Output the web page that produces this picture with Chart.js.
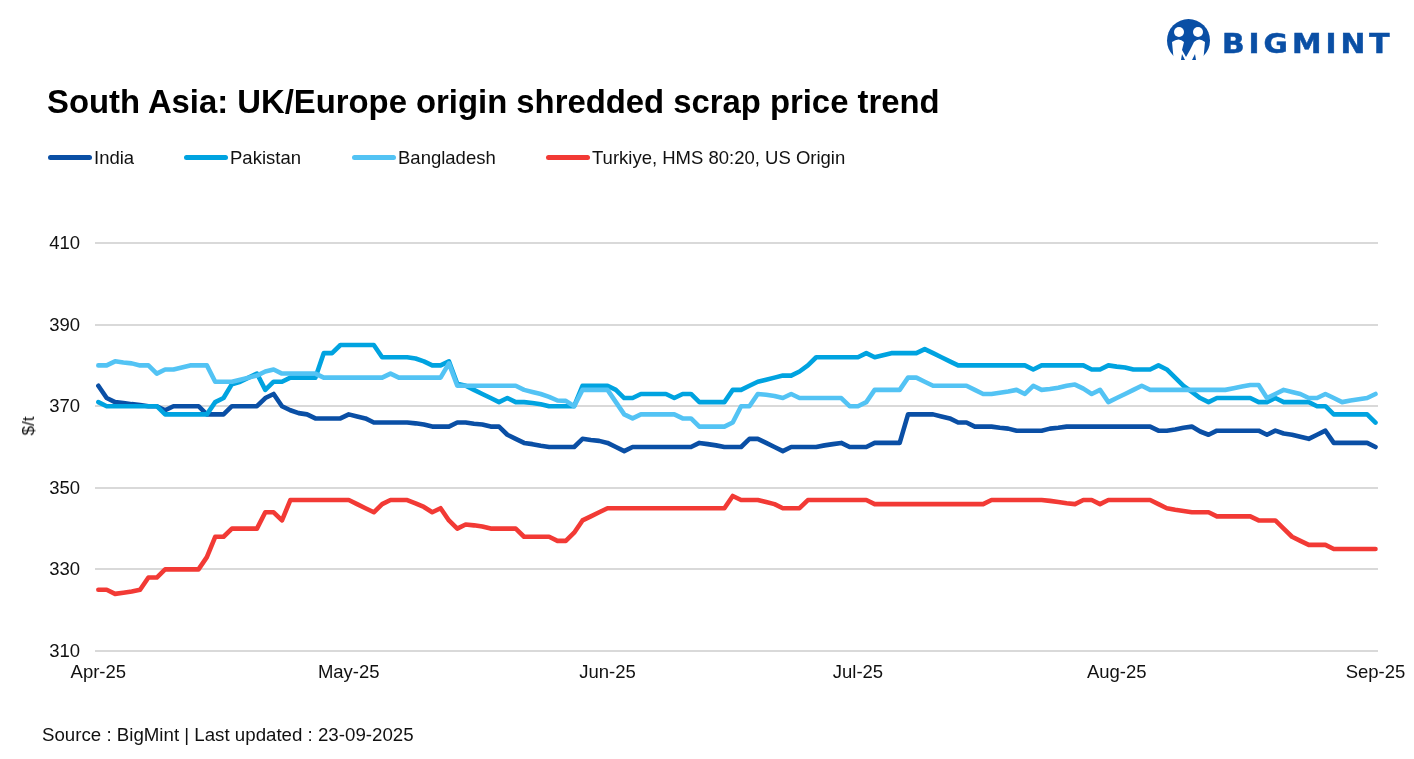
<!DOCTYPE html>
<html>
<head>
<meta charset="utf-8">
<title>South Asia shredded scrap price trend</title>
<script src="https://cdn.jsdelivr.net/npm/chart.js@4"></script>
<style>
  html, body { margin: 0; padding: 0; background: #fff; }
  body { width: 1414px; height: 759px; position: relative; overflow: hidden; font-family: "Liberation Sans", sans-serif; color: #111; }
  #chart { position: absolute; left: 0; top: 0; }
  #title { position: absolute; left: 47px; top: 83px; font-size: 32.85px; font-weight: 700; color: #000; white-space: nowrap; }
  #source { position: absolute; left: 42px; top: 724px; font-size: 18.7px; white-space: nowrap; }
  #ylabel { position: absolute; left: 29px; top: 426px; font-size: 17px; white-space: nowrap; transform: translate(-50%, -50%) rotate(-90deg); }
  .legend-item { position: absolute; top: 147px; font-size: 18.5px; line-height: 21px; white-space: nowrap; }
  .legend-line { position: absolute; top: 155px; width: 44px; height: 5px; border-radius: 3px; }
  #logo { position: absolute; left: 1166px; top: 19px; }
  #logo-text { position: absolute; left: 1222px; top: 28px; font-family: "DejaVu Sans", sans-serif; font-weight: 700; font-size: 27px; letter-spacing: 3.6px; color: #0a4fa5; white-space: nowrap; transform: scaleX(1.1); transform-origin: left center; -webkit-text-stroke: 0.5px #0a4fa5; }
</style>
</head>
<body>
<canvas id="chart" width="1414" height="759"></canvas>
<div id="title">South Asia: UK/Europe origin shredded scrap price trend</div>
<div id="legend"></div>
<div id="ylabel">$/t</div>
<div id="source">Source : BigMint | Last updated : 23-09-2025</div>
<svg id="logo" width="46" height="44" viewBox="0 0 46 44">
  <circle cx="22.5" cy="21.5" r="21.5" fill="#0a4fa5"/>
  <circle cx="13" cy="13" r="5" fill="#fff"/>
  <circle cx="32" cy="13" r="5" fill="#fff"/>
  <path d="M6 23 Q13 18 18 23 L16 31 L20 38 L24 31 L28 23 Q33 18 39 23 L37 44 L8 44 Z" fill="#fff"/>
  <path d="M15 41 L16 35 L19 41 Z M30 41 L29 35 L26 41 Z" fill="#0a4fa5"/>
</svg>
<div id="logo-text">BIGMINT</div>

<script>
const seriesNames = ['India', 'Pakistan', 'Bangladesh', 'Turkiye, HMS 80:20, US Origin'];
const seriesColors = ['#0a4fa5', '#00a3e0', '#53c3f4', '#f23a35'];

const monthLabels = ['Apr-25', 'May-25', 'Jun-25', 'Jul-25', 'Aug-25', 'Sep-25'];
const monthPositions = [0, 30, 61, 91, 122, 153];
const yTicks = [310, 330, 350, 370, 390, 410];

const india = [
  375,372,371,370.8,370.5,370.3,370,370,369,370,
  370,370,370,368,368,368,370,370,370,370,
  372,373,370,369,368.3,368,367,367,367,367,
  368,367.5,367,366,366,366,366,366,365.8,365.5,
  365,365,365,366,366,365.7,365.5,365,365,363,
  362,361,360.7,360.3,360,360,360,360,362,361.7,
  361.5,361,360,359,360,360,360,360,360,360,
  360,360,361,360.7,360.4,360,360,360,362,362,
  361,360,359,360,360,360,360,360.4,360.7,361,
  360,360,360,361,361,361,361,368,368,368,
  368,367.5,367,366,366,365,365,365,364.7,364.5,
  364,364,364,364,364.5,364.7,365,365,365,365,
  365,365,365,365,365,365,365,364,364,364.3,
  364.7,365,363.8,363,364,364,364,364,364,364,
  363,364,363.3,363,362.5,362,363,364,361,361,
  361,361,361,360
];
const pakistan = [
  371,370,370,370,370,370,370,370,368,368,
  368,368,368,368,371,372,375.4,376,377,378,
  374,376,376,377,377,377,377,383,383,385,
  385,385,385,385,382,382,382,382,381.7,381,
  380,380,381,375.5,375,374,373,372,371,372,
  371,371,370.8,370.5,370,370,370,370,375,375,
  375,375,374,372,372,373,373,373,373,372,
  373,373,371,371,371,371,374,374,375,376,
  376.5,377,377.5,377.5,378.5,380,382,382,382,382,
  382,382,383,382,382.5,383,383,383,383,384,
  383,382,381,380,380,380,380,380,380,380,
  380,380,379,380,380,380,380,380,380,379,
  379,380,379.7,379.5,379,379,379,380,379,377,
  375,373.5,372,371,372,372,372,372,372,371,
  371,372,371,371,371,371,370,370,368,368,
  368,368,368,366
];
const bangladesh = [
  380,380,381,380.7,380.5,380,380,378,379,379,
  379.5,380,380,380,376,376,376,376.5,377,377.5,
  378.5,379,378,378,378,378,378,377,377,377,
  377,377,377,377,377,378,377,377,377,377,
  377,377,380.5,375,375,375,375,375,375,375,
  375,374,373.5,373,372.3,371.4,371.3,370,374,374,
  374,374,371,368,367,368,368,368,368,368,
  367,367,365,365,365,365,366,370,370,373,
  372.8,372.5,372,373,372,372,372,372,372,372,
  370,370,371,374,374,374,374,377,377,376,
  375,375,375,375,375,374,373,373,373.3,373.6,
  374,373,375,374,374.2,374.5,375,375.3,374.3,373,
  374,371,372,373,374,375,374,374,374,374,
  374,374,374,374,374,374,374.4,374.8,375.2,375.2,
  372,373,374,373.5,373,372,372,373,372,371,
  371.4,371.7,372,373
];
const turkiye = [
  325,325,324,324.3,324.6,325,328,328,330,330,
  330,330,330,333,338,338,340,340,340,340,
  344,344,342,347,347,347,347,347,347,347,
  347,346,345,344,346,347,347,347,346.2,345.3,
  344,345,342,340,341,340.8,340.5,340,340,340,
  340,338,338,338,338,337,337,339,342,343,
  344,345,345,345,345,345,345,345,345,345,
  345,345,345,345,345,345,348,347,347,347,
  346.5,346,345,345,345,347,347,347,347,347,
  347,347,347,346,346,346,346,346,346,346,
  346,346,346,346,346,346,346,347,347,347,
  347,347,347,347,346.8,346.5,346.2,346,347,347,
  346,347,347,347,347,347,347,346,345,344.6,
  344.3,344,344,344,343,343,343,343,343,342,
  342,342,340,338,337,336,336,336,335,335,
  335,335,335,335
];
const allSeries = [india, pakistan, bangladesh, turkiye];

// --- legend is plain html so the swatch sits close to its label ---
const legendX = [48, 184, 352, 546];
const legend = document.getElementById('legend');
seriesNames.forEach((name, i) => {
    const line = document.createElement('div');
    line.className = 'legend-line';
    line.style.left = legendX[i] + 'px';
    line.style.background = seriesColors[i];
    legend.appendChild(line);
    const label = document.createElement('div');
    label.className = 'legend-item';
    label.style.left = (legendX[i] + 46) + 'px';
    label.innerText = name;
    legend.appendChild(label);
});

const gridColor = '#d9d9d9';
const tickFont = { family: '"Liberation Sans", sans-serif', size: 18.5 };

new Chart(document.getElementById('chart').getContext('2d'), {
    type: 'line',
    data: {
        datasets: allSeries.map((values, i) => ({
            label: seriesNames[i],
            data: values.map((v, day) => ({ x: day, y: v })),
            borderColor: seriesColors[i],
            backgroundColor: seriesColors[i],
            borderWidth: 4.6,
            borderCapStyle: 'round',
            borderJoinStyle: 'round',
            pointRadius: 0,
            tension: 0,
            fill: false,
            order: allSeries.length - i
        }))
    },
    options: {
        responsive: false,
        animation: false,
        layout: { padding: { left: 0, right: 36, top: 243, bottom: 68 } },
        plugins: { legend: { display: false }, title: { display: false }, tooltip: { enabled: false } },
        scales: {
            x: {
                type: 'linear',
                min: -0.4,
                max: 153.3,
                afterBuildTicks: axis => { axis.ticks = monthPositions.map(v => ({ value: v })); },
                afterFit: axis => { axis.height = 40; },
                grid: { display: false },
                border: { display: false },
                ticks: {
                    autoSkip: false,
                    maxRotation: 0,
                    padding: 3,
                    color: '#111',
                    font: tickFont,
                    callback: v => monthLabels[monthPositions.indexOf(v)]
                }
            },
            y: {
                min: 310,
                max: 410,
                afterBuildTicks: axis => { axis.ticks = yTicks.map(v => ({ value: v })); },
                afterFit: axis => { axis.width = 95; },
                grid: { color: gridColor, lineWidth: 2, drawTicks: false },
                border: { display: false },
                ticks: { padding: 15, labelOffset: 1, color: '#111', font: tickFont }
            }
        }
    }
});
</script>
</body>
</html>
